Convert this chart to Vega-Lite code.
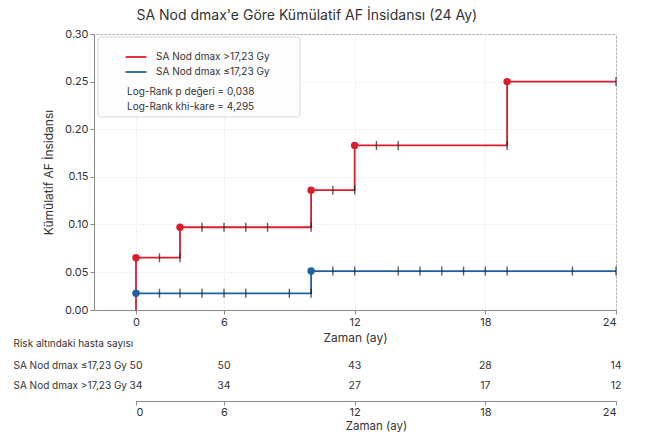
{
  "$schema": "https://vega.github.io/schema/vega-lite/v6.json",
  "background": "white",
  "padding": {"left": 13, "top": 8, "right": 5, "bottom": 0},
  "bounds": "flush",
  "spacing": 41,
  "title": {"text": "SA Nod dmax'e Göre Kümülatif AF İnsidansı (24 Ay)", "anchor": "start", "dx": 123, "fontSize": 14, "fontWeight": "normal", "color": "#333333", "offset": 5},
  "datasets": {
    "curve": [
      {"grup": "SA Nod dmax >17,23 Gy", "t": 0, "v": 0},
      {"grup": "SA Nod dmax >17,23 Gy", "t": 0, "v": 0.065},
      {"grup": "SA Nod dmax >17,23 Gy", "t": 3, "v": 0.097},
      {"grup": "SA Nod dmax >17,23 Gy", "t": 10, "v": 0.136},
      {"grup": "SA Nod dmax >17,23 Gy", "t": 12, "v": 0.183},
      {"grup": "SA Nod dmax >17,23 Gy", "t": 19, "v": 0.25},
      {"grup": "SA Nod dmax >17,23 Gy", "t": 24, "v": 0.25},
      {"grup": "SA Nod dmax ≤17,23 Gy", "t": 0, "v": 0.022},
      {"grup": "SA Nod dmax ≤17,23 Gy", "t": 10, "v": 0.051},
      {"grup": "SA Nod dmax ≤17,23 Gy", "t": 24, "v": 0.051}
    ],
    "events": [
      {"grup": "SA Nod dmax >17,23 Gy", "t": 0, "v": 0.065},
      {"grup": "SA Nod dmax >17,23 Gy", "t": 3, "v": 0.097},
      {"grup": "SA Nod dmax >17,23 Gy", "t": 10, "v": 0.136},
      {"grup": "SA Nod dmax >17,23 Gy", "t": 12, "v": 0.183},
      {"grup": "SA Nod dmax >17,23 Gy", "t": 19, "v": 0.25},
      {"grup": "SA Nod dmax ≤17,23 Gy", "t": 0, "v": 0.022},
      {"grup": "SA Nod dmax ≤17,23 Gy", "t": 10, "v": 0.051}
    ],
    "censor": [
      {"grup": "SA Nod dmax >17,23 Gy", "t": 1.6, "v": 0.065},
      {"grup": "SA Nod dmax >17,23 Gy", "t": 3, "v": 0.065},
      {"grup": "SA Nod dmax >17,23 Gy", "t": 4.5, "v": 0.097},
      {"grup": "SA Nod dmax >17,23 Gy", "t": 6, "v": 0.097},
      {"grup": "SA Nod dmax >17,23 Gy", "t": 7, "v": 0.097},
      {"grup": "SA Nod dmax >17,23 Gy", "t": 8, "v": 0.097},
      {"grup": "SA Nod dmax >17,23 Gy", "t": 10, "v": 0.097},
      {"grup": "SA Nod dmax >17,23 Gy", "t": 11, "v": 0.136},
      {"grup": "SA Nod dmax >17,23 Gy", "t": 12, "v": 0.136},
      {"grup": "SA Nod dmax >17,23 Gy", "t": 13, "v": 0.183},
      {"grup": "SA Nod dmax >17,23 Gy", "t": 14, "v": 0.183},
      {"grup": "SA Nod dmax >17,23 Gy", "t": 19, "v": 0.183},
      {"grup": "SA Nod dmax >17,23 Gy", "t": 24, "v": 0.25},
      {"grup": "SA Nod dmax ≤17,23 Gy", "t": 1.6, "v": 0.022},
      {"grup": "SA Nod dmax ≤17,23 Gy", "t": 3, "v": 0.022},
      {"grup": "SA Nod dmax ≤17,23 Gy", "t": 4.5, "v": 0.022},
      {"grup": "SA Nod dmax ≤17,23 Gy", "t": 6, "v": 0.022},
      {"grup": "SA Nod dmax ≤17,23 Gy", "t": 7, "v": 0.022},
      {"grup": "SA Nod dmax ≤17,23 Gy", "t": 9, "v": 0.022},
      {"grup": "SA Nod dmax ≤17,23 Gy", "t": 10, "v": 0.022},
      {"grup": "SA Nod dmax ≤17,23 Gy", "t": 11, "v": 0.051},
      {"grup": "SA Nod dmax ≤17,23 Gy", "t": 12, "v": 0.051},
      {"grup": "SA Nod dmax ≤17,23 Gy", "t": 14, "v": 0.051},
      {"grup": "SA Nod dmax ≤17,23 Gy", "t": 15, "v": 0.051},
      {"grup": "SA Nod dmax ≤17,23 Gy", "t": 16, "v": 0.051},
      {"grup": "SA Nod dmax ≤17,23 Gy", "t": 17, "v": 0.051},
      {"grup": "SA Nod dmax ≤17,23 Gy", "t": 18, "v": 0.051},
      {"grup": "SA Nod dmax ≤17,23 Gy", "t": 19, "v": 0.051},
      {"grup": "SA Nod dmax ≤17,23 Gy", "t": 22, "v": 0.051},
      {"grup": "SA Nod dmax ≤17,23 Gy", "t": 24, "v": 0.051}
    ],
    "risk": [
      {"grup": "SA Nod dmax ≤17,23 Gy", "t": 0, "n": 50},
      {"grup": "SA Nod dmax ≤17,23 Gy", "t": 6, "n": 50},
      {"grup": "SA Nod dmax ≤17,23 Gy", "t": 12, "n": 43},
      {"grup": "SA Nod dmax ≤17,23 Gy", "t": 18, "n": 28},
      {"grup": "SA Nod dmax ≤17,23 Gy", "t": 24, "n": 14},
      {"grup": "SA Nod dmax >17,23 Gy", "t": 0, "n": 34},
      {"grup": "SA Nod dmax >17,23 Gy", "t": 6, "n": 34},
      {"grup": "SA Nod dmax >17,23 Gy", "t": 12, "n": 27},
      {"grup": "SA Nod dmax >17,23 Gy", "t": 18, "n": 17},
      {"grup": "SA Nod dmax >17,23 Gy", "t": 24, "n": 12}
    ]
  },
  "vconcat": [
    {
      "width": 522,
      "height": 276,
      "layer": [
        {
          "data": {"values": [{}]},
          "mark": {"type": "rect", "fill": "#fdfdfd", "stroke": "#d6d6d6", "strokeWidth": 1, "cornerRadius": 3},
          "encoding": {
            "x": {"datum": -2.59, "type": "quantitative"},
            "x2": {"datum": 9.49},
            "y": {"datum": 0.2968, "type": "quantitative"},
            "y2": {"datum": 0.2128}
          }
        },
        {
          "data": {"name": "curve"},
          "mark": {"type": "line", "interpolate": "step-after", "strokeWidth": 1.8},
          "encoding": {
            "x": {
              "field": "t", "type": "quantitative",
              "scale": {"domain": [-2.86, 0, 6, 24], "range": [0, 42, 130, 522], "nice": false, "zero": false},
              "axis": {"values": [0, 6, 12, 18, 24], "title": "Zaman (ay)", "titlePadding": 5, "grid": true}
            },
            "y": {
              "field": "v", "type": "quantitative",
              "scale": {"domain": [0, 0.05, 0.3], "range": [276, 238, 0], "nice": false, "zero": false},
              "axis": {"values": [0, 0.05, 0.1, 0.15, 0.2, 0.25, 0.3], "format": ".2f", "title": "Kümülatif AF İnsidansı", "titlePadding": 9, "grid": true}
            },
            "color": {
              "field": "grup", "type": "nominal",
              "scale": {"domain": ["SA Nod dmax >17,23 Gy", "SA Nod dmax ≤17,23 Gy"], "range": ["#d81e2c", "#20609c"]},
              "legend": {
                "orient": "none", "legendX": 33, "legendY": 14,
                "title": ["Log-Rank p değeri = 0,038", "Log-Rank khi-kare = 4,295"],
                "titleOrient": "bottom", "titleAnchor": "start", "titleFontWeight": "normal", "titleFontSize": 10, "titleColor": "#333333", "titleLineHeight": 15, "titlePadding": 10,
                "symbolType": "M-1.3,0L1.3,0", "symbolSize": 256, "symbolStrokeWidth": 1.8,
                "labelFontSize": 10, "labelColor": "#333333", "labelOffset": 11, "rowPadding": 1
              }
            },
            "order": {"field": "t", "type": "quantitative"}
          }
        },
        {
          "data": {"name": "censor"},
          "mark": {"type": "tick", "orient": "vertical", "size": 9, "thickness": 1.4, "color": "#1a1a1a"},
          "encoding": {
            "x": {"field": "t", "type": "quantitative"},
            "y": {"field": "v", "type": "quantitative"}
          }
        },
        {
          "data": {"name": "events"},
          "mark": {"type": "circle", "size": 55, "opacity": 1},
          "encoding": {
            "x": {"field": "t", "type": "quantitative"},
            "y": {"field": "v", "type": "quantitative"},
            "color": {"field": "grup", "type": "nominal", "legend": null}
          }
        }
      ]
    },
    {
      "width": 522,
      "height": 50,
      "view": {"stroke": null},
      "title": {"text": "Risk altındaki hasta sayısı", "anchor": "start", "frame": "bounds", "fontSize": 10, "fontWeight": "normal", "color": "#333333", "offset": 2},
      "data": {"name": "risk"},
      "layer": [
        {
          "mark": {"type": "text", "fontSize": 10.5, "color": "#333333"},
          "encoding": {
            "x": {
              "field": "t", "type": "quantitative",
              "scale": {"domain": [0, 6, 24], "range": [42, 130, 522], "nice": false, "zero": false},
              "axis": {"values": [0, 6, 12, 18, 24], "title": "Zaman (ay)", "titlePadding": 3, "labelPadding": 1, "titleFontSize": 11.5, "grid": false}
            },
            "y": {"field": "grup", "type": "nominal", "sort": ["SA Nod dmax ≤17,23 Gy", "SA Nod dmax >17,23 Gy"], "scale": {"type": "point", "padding": 0.75}, "axis": null},
            "text": {"field": "n", "type": "quantitative"}
          }
        },
        {
          "transform": [{"filter": "datum.t == 0"}],
          "mark": {"type": "text", "fontSize": 10, "color": "#333333", "align": "right", "dx": -9},
          "encoding": {
            "x": {"field": "t", "type": "quantitative"},
            "y": {"field": "grup", "type": "nominal", "sort": ["SA Nod dmax ≤17,23 Gy", "SA Nod dmax >17,23 Gy"]},
            "text": {"field": "grup", "type": "nominal"}
          }
        }
      ]
    }
  ],
  "config": {
    "font": "Inter",
    "view": {"stroke": "#a8a8a8"},
    "axis": {
      "domainColor": "#8a8a8a", "tickColor": "#8a8a8a", "tickSize": 4, "labelPadding": 2,
      "labelFontSize": 11, "labelColor": "#333333", "titleFontSize": 12, "titleFontWeight": "normal", "titleColor": "#333333",
      "gridColor": "#ebebeb", "gridDash": [2, 2]
    }
  }
}
